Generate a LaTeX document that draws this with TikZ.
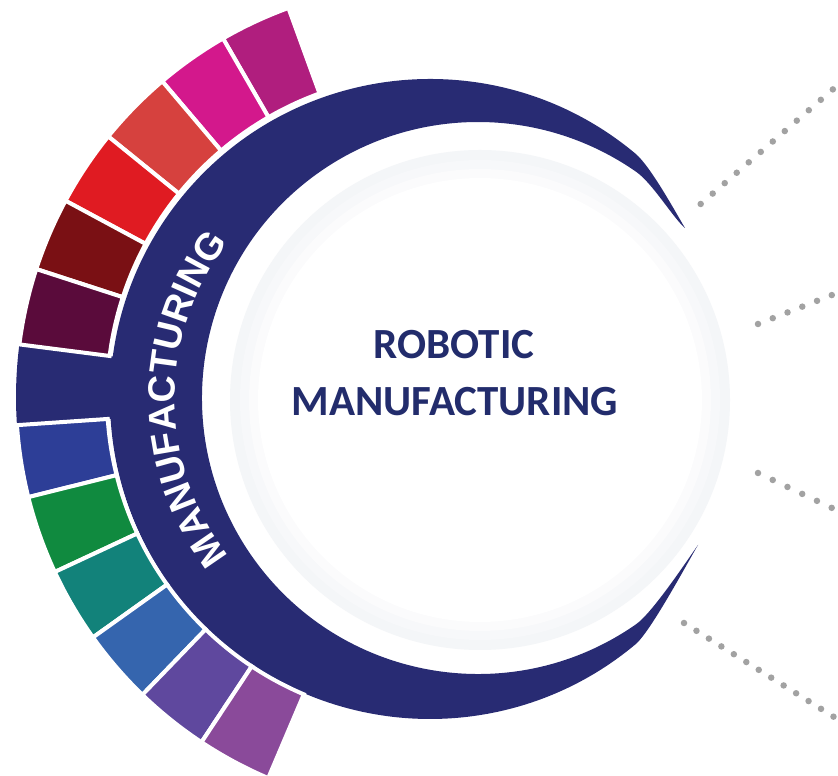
\documentclass[tikz,border=0pt]{standalone}
\usepackage{fontspec}
\usetikzlibrary{decorations.text}
\newfontfamily\ringfam{Liberation Sans}
\newfontfamily\centerfam{Carlito}
\definecolor{navyring}{HTML}{282B73}
\definecolor{titlenavy}{HTML}{222C6C}
\definecolor{dotgray}{HTML}{A2A2A2}
\definecolor{rimA}{HTML}{F4F6F8}
\definecolor{rimB}{HTML}{F7F8FA}
\definecolor{rimC}{HTML}{FBFBFC}
\definecolor{cA}{HTML}{B01E7E}
\definecolor{cB}{HTML}{D3188C}
\definecolor{cC}{HTML}{D6413E}
\definecolor{cD}{HTML}{E01B22}
\definecolor{cE}{HTML}{7A1014}
\definecolor{cF}{HTML}{5A0B3B}
\definecolor{cG}{HTML}{2D3E97}
\definecolor{cH}{HTML}{108A3F}
\definecolor{cI}{HTML}{12827A}
\definecolor{cJ}{HTML}{3565AE}
\definecolor{cK}{HTML}{5F489E}
\definecolor{cL}{HTML}{8A4A9A}
\newcommand{\ringfmt}{\ringfam\bfseries\fontsize{38pt}{40pt}\selectfont}
\newcommand{\ringseg}[3]{\filldraw[segbox, fill=#3] ([shift={(430,379)}]#1:323) arc[start angle=#1, end angle=#2, radius=323] -- ([shift={(430,379)}]#2:414) arc[start angle=#2, end angle=#1, radius=414] -- cycle;}
\begin{document}
\begin{tikzpicture}[x=1pt,y=1pt,
  segbox/.style={draw=white, line width=4pt},
  dotline/.style={draw=dotgray, line width=6.5pt, line cap=round},
  centertext/.style={font=\centerfam\bfseries\fontsize{43pt}{45pt}\selectfont, text=titlenavy, inner sep=0pt}]
\useasboundingbox (0,0) rectangle (838,776);
\fill[white] (0,0) rectangle (838,776);
% very soft rim of the central disk
\fill[rimA] (480,376) circle[radius=250];
\fill[rimB] (480,376) circle[radius=240];
\fill[rimC] (480,376) circle[radius=231];
\fill[white] (480,376) circle[radius=222];
% navy crescent
\fill[navyring] (685,548) .. controls (677.2,560.8) and (651.0,609.2) .. ([shift={(430,377)}]50:320)
  arc[start angle=50, end angle=310, radius=320]
  .. controls (651.0,144.8) and (690.2,218.2) .. (698,231)
  .. controls (689.3,218.8) and (652.7,163.4) .. ([shift={(478,378)}]305:276)
  arc[start angle=305, end angle=55, radius=276]
  .. controls (652.7,592.6) and (673.4,557.6) .. (685,548) -- cycle;
% navy tab on the left
\fill[navyring] ([shift={(430,379)}]172.7:300) arc[start angle=172.7, end angle=183.9, radius=300]
  -- ([shift={(430,379)}]183.9:414) arc[start angle=183.9, end angle=172.7, radius=414] -- cycle;
% coloured segments
\ringseg{110}{120}{cA}
\ringseg{120}{130.3}{cB}
\ringseg{130.3}{141}{cC}
\ringseg{141}{151.7}{cD}
\ringseg{151.7}{162}{cE}
\ringseg{162}{172.7}{cF}
\ringseg{183.9}{194}{cG}
\ringseg{194}{205}{cH}
\ringseg{205}{215.5}{cI}
\ringseg{215.5}{226}{cJ}
\ringseg{226}{236.5}{cK}
\ringseg{236.5}{247}{cL}
% curved label in the ring
\path[decorate, decoration={text along path, text={|\ringfmt|MANUFACTURING}, text align=center, text color=white}]
  ([shift={(430,377)}]225:255) arc[start angle=225, end angle=135, radius=255];
% centre title
\node[centertext] (rob) at (454,431) {ROBOTIC};
\node[centertext] (man) at (455,374.5) {MANUFACTURING};
% dotted connectors
\coordinate (d1a) at (700.7,572); \coordinate (d1b) at (833.3,687);
\coordinate (d2a) at (758,452);   \coordinate (d2b) at (832,481);
\coordinate (d3a) at (758,303);   \coordinate (d3b) at (832,268);
\coordinate (d4a) at (684,153);   \coordinate (d4b) at (834,59);
\draw[dotline, dash pattern=on 0pt off 15.9pt] (d1a) -- (d1b);
\draw[dotline, dash pattern=on 0pt off 15.85pt] (d2a) -- (d2b);
\draw[dotline, dash pattern=on 0pt off 16.3pt] (d3a) -- (d3b);
\draw[dotline, dash pattern=on 0pt off 14.7pt] (d4a) -- (d4b);
\end{tikzpicture}
\end{document}
